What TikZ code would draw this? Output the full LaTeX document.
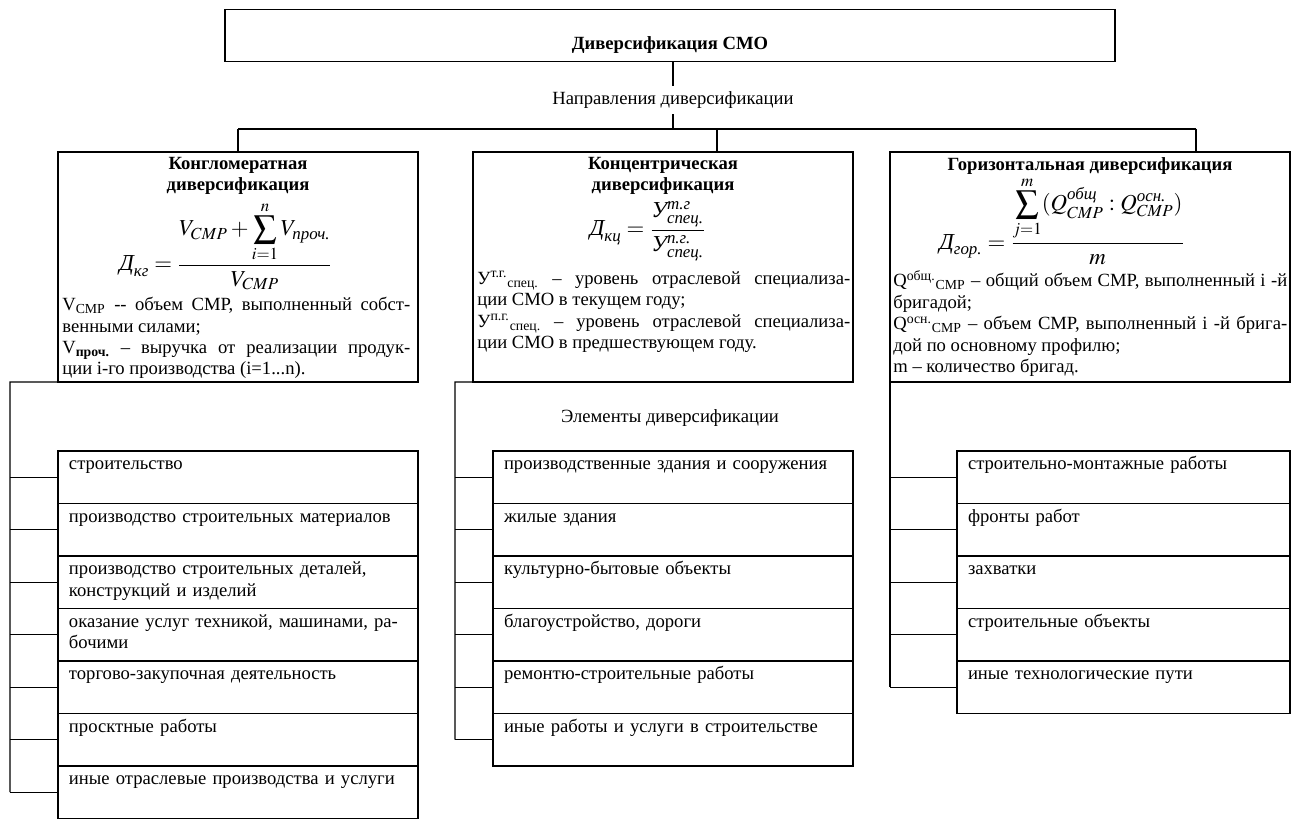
\documentclass[tikz,border=0pt]{standalone}
\usepackage{amsmath}
\usepackage{mathptmx}
\usepackage{fontspec}
\setmainfont{Liberation Serif}
\usetikzlibrary{positioning}

\newcommand{\cyrit}[1]{\text{\itshape #1}}
\newcommand{\jline}[2]{\makebox[#1][s]{#2}}

\begin{document}
\fontsize{10.6}{12.2}\selectfont
\begin{tikzpicture}[x=0.02cm, y=-0.02cm, every node/.style={inner sep=0pt}]
  \tikzset{
    frame/.style={draw, line width=0.7pt, anchor=north west, outer sep=0pt},
    head/.style={font=\bfseries, align=center, anchor=north},
    formula/.style={font=\fontsize{13}{15}\selectfont},
    note/.style={anchor=north west, align=left},
    item/.style={draw, line width=0.7pt, outer sep=0pt, align=left,
      inner xsep=0.22cm, text height=0.38cm, text depth=0.67cm},
    wire/.style={line width=0.7pt}
  }

  % page size of the scan
  \path[use as bounding box] (0,0) rectangle (1291,820);

  % root and directions
  \node[draw, line width=0.7pt, font=\bfseries, anchor=south, minimum width=17.8cm,
    text height=0.8cm, text depth=0.24cm] (smo) at (670,62) {Диверсификация СМО};
  \node[inner ysep=3pt] (dir) at (673,100) {Направления диверсификации};
  \coordinate (b1) at (238,129);
  \coordinate (b2) at (717,129);
  \coordinate (b3) at (1196,129);
  \draw[wire] (smo.south -| dir.north) -- (dir.north);
  \draw[wire] (dir.south) -- (dir.south |- b1);
  \draw[wire] (b1) -- (b3);

  % the three kinds of diversification
  \node[frame, minimum width=7.2cm, minimum height=4.6cm] (kg) at (58,152) {};
  \node[frame, minimum width=7.6cm, minimum height=4.6cm] (kc) at (473,152) {};
  \node[frame, minimum width=8.0cm, minimum height=4.6cm] (gor) at (890,152) {};
  \draw[wire] (b1) -- (b1 |- kg.north);
  \draw[wire] (b2) -- (b2 |- kc.north);
  \draw[wire] (b3) -- (b3 |- gor.north);

  % conglomerate
  \node[head] (kgt) at (238,157) {Конгломератная\\диверсификация};
  \node[formula] (kgf) at (226,246)
    {$\cyrit{Д}_{\cyrit{кг}} = \dfrac{\displaystyle V_{CMP} + \sum_{i=1}^{n} V_{\cyrit{проч.}}}{V_{CMP}}$};
  \node[note] (kgn) at (62,297) {\jline{6.96cm}{V\textsubscript{CMP} -{}- объем СМР, выполненный собст-}\\
    венными силами;\\
    \jline{6.96cm}{V\textsubscript{\textbf{проч.}} – выручка от реализации продук-}\\
    ции i-го производства (i=1...n).};

  % concentric
  \node[head] (kct) at (663,157) {Концентрическая\\диверсификация};
  \node[formula] (kcf) at (648,231)
    {$\cyrit{Д}_{\cyrit{кц}} = \dfrac{\cyrit{У}^{\cyrit{т.г}}_{\cyrit{спец.}}}{\cyrit{У}^{\cyrit{п.г.}}_{\cyrit{спец.}}}$};
  \node[note] (kcn) at (477,271) {\jline{7.46cm}{У\textsuperscript{т.г.}\textsubscript{спец.} – уровень отраслевой специализа-}\\
    ции СМО в текущем году;\\
    \jline{7.46cm}{У\textsuperscript{п.г.}\textsubscript{спец.} – уровень отраслевой специализа-}\\
    ции СМО в предшествующем году.};

  % horizontal
  \node[head] (gort) at (1090,157) {Горизонтальная диверсификация};
  \node[formula] (gorf) at (1062,221)
    {$\cyrit{Д}_{\cyrit{гор.}} = \dfrac{\displaystyle\sum_{j=1}^{m} (Q^{\cyrit{общ}}_{CMP} : Q^{\cyrit{осн.}}_{CMP})}{m}$};
  \node[note] (gorn) at (893,270) {\jline{7.88cm}{Q\textsuperscript{общ.}\textsubscript{CMP} – общий объем СМР, выполненный i -й}\\
    бригадой;\\
    \jline{7.88cm}{Q\textsuperscript{осн.}\textsubscript{CMP} – объем СМР, выполненный i -й брига-}\\
    дой по основному профилю;\\
    m – количество бригад.};

  \node (elem) at (670,418) {Элементы диверсификации};

  % left list
  \node[item, anchor=north west, minimum width=7.2cm, text width=6.76cm] (k1) at (58,451) {строительство};
  \node[item, minimum width=7.2cm, text width=6.76cm, below=0pt of k1] (k2) {производство строительных материалов};
  \node[item, minimum width=7.2cm, text width=6.76cm, below=0pt of k2] (k3) {производство строительных деталей,\\конструкций и изделий};
  \node[item, minimum width=7.2cm, text width=6.76cm, below=0pt of k3] (k4) {оказание услуг техникой, машинами, ра-\\бочими};
  \node[item, minimum width=7.2cm, text width=6.76cm, below=0pt of k4] (k5) {торгово-закупочная деятельность};
  \node[item, minimum width=7.2cm, text width=6.76cm, below=0pt of k5] (k6) {просктные работы};
  \node[item, minimum width=7.2cm, text width=6.76cm, below=0pt of k6] (k7) {иные отраслевые производства и услуги};

  % middle list
  \node[item, anchor=north west, minimum width=7.2cm, text width=6.76cm] (c1) at (493,451) {производственные здания и сооружения};
  \node[item, minimum width=7.2cm, text width=6.76cm, below=0pt of c1] (c2) {жилые здания};
  \node[item, minimum width=7.2cm, text width=6.76cm, below=0pt of c2] (c3) {культурно-бытовые объекты};
  \node[item, minimum width=7.2cm, text width=6.76cm, below=0pt of c3] (c4) {благоустройство, дороги};
  \node[item, minimum width=7.2cm, text width=6.76cm, below=0pt of c4] (c5) {ремонтю-строительные работы};
  \node[item, minimum width=7.2cm, text width=6.76cm, below=0pt of c5] (c6) {иные работы и услуги в строительстве};

  % right list
  \node[item, anchor=north west, minimum width=6.66cm, text width=6.22cm] (g1) at (957,451) {строительно-монтажные работы};
  \node[item, minimum width=6.66cm, text width=6.22cm, below=0pt of g1] (g2) {фронты работ};
  \node[item, minimum width=6.66cm, text width=6.22cm, below=0pt of g2] (g3) {захватки};
  \node[item, minimum width=6.66cm, text width=6.22cm, below=0pt of g3] (g4) {строительные объекты};
  \node[item, minimum width=6.66cm, text width=6.22cm, below=0pt of g4] (g5) {иные технологические пути};

  % trunks
  \coordinate (kbus) at (10,382);
  \coordinate (cbus) at (455,382);
  \draw[wire] (kg.south west) -- (kbus) -- (kbus |- k7.west);
  \draw[wire] (kc.south west) -- (cbus) -- (cbus |- c6.west);
  \draw[wire] (gor.south west) -- (gor.south west |- g5.west);
  \foreach \i in {1,...,7} \draw[wire] (kbus |- k\i.west) -- (k\i.west);
  \foreach \i in {1,...,6} \draw[wire] (cbus |- c\i.west) -- (c\i.west);
  \foreach \i in {1,...,5} \draw[wire] (gor.south west |- g\i.west) -- (g\i.west);

\end{tikzpicture}
\end{document}
